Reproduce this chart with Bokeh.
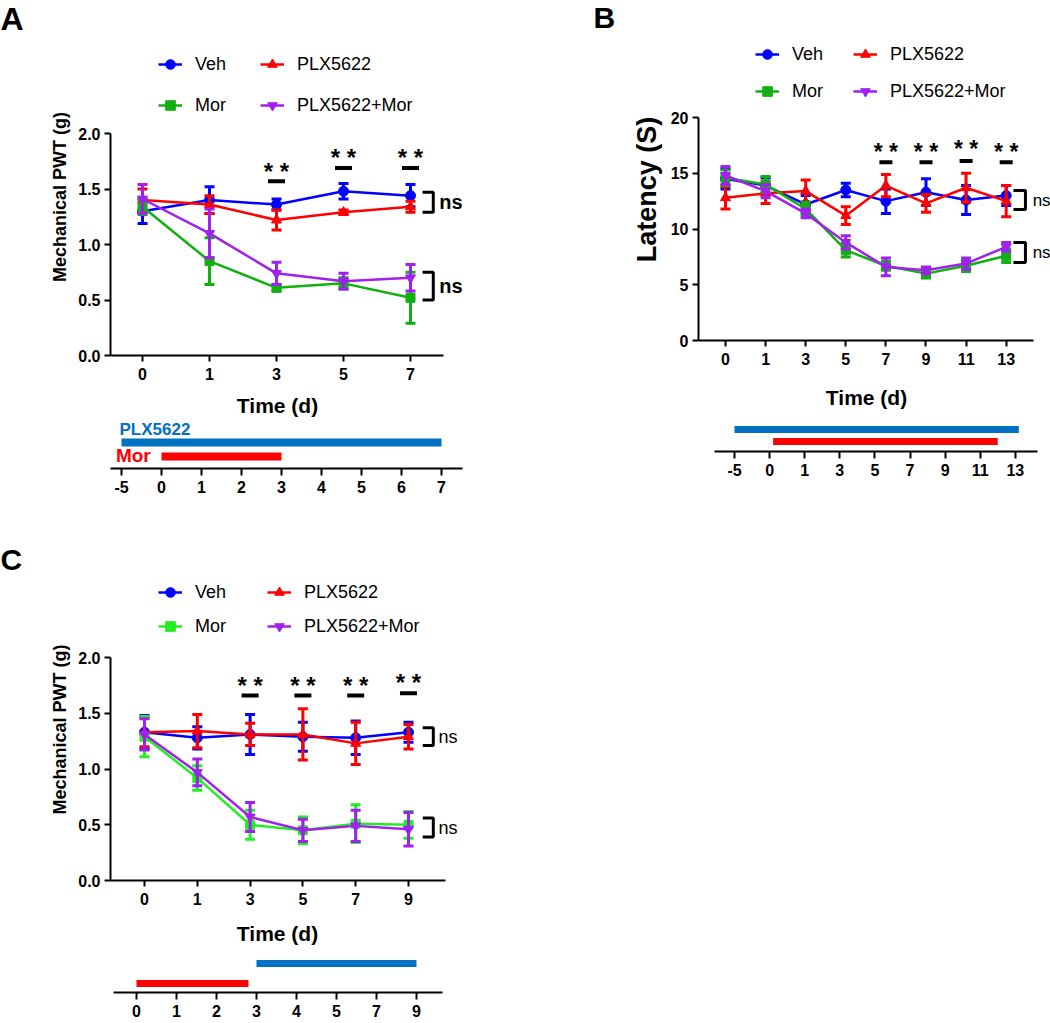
import numpy as np
from bokeh.plotting import figure
from bokeh.models import Range1d, FixedTicker, Legend, LegendItem, Label, ColumnDataSource
from bokeh.layouts import column, row
from bokeh.embed import file_html
from bokeh.resources import INLINE
from bokeh.core.properties import value

FONT = "Liberation Sans"

# ---------------- data ----------------
# Panel A : mechanical PWT (g)
time_a = ["0", "1", "3", "5", "7"]
veh_a = [1.30, 1.40, 1.36, 1.48, 1.44]
veh_a_err = [0.11, 0.12, 0.05, 0.07, 0.10]
plx_a = [1.40, 1.36, 1.22, 1.29, 1.34]
plx_a_err = [0.10, 0.08, 0.09, 0.02, 0.05]
mor_a = [1.34, 0.85, 0.61, 0.65, 0.52]
mor_a_err = [0.07, 0.21, 0.03, 0.05, 0.23]
pm_a = [1.41, 1.10, 0.74, 0.67, 0.70]
pm_a_err = [0.13, 0.22, 0.10, 0.07, 0.12]
sig_a_idx = [2, 3, 4]
sig_a_star = [1.70, 1.83, 1.83]
sig_a_bar = [1.57, 1.69, 1.69]
ns_a_top = [1.47, 1.29]
ns_a_bot = [0.75, 0.50]
tl_a_ticks = ["-5", "0", "1", "2", "3", "4", "5", "6", "7"]
tl_a_plx = [-5, 7]
tl_a_mor = [0, 3]

# Panel B : latency (s)
time_b = ["0", "1", "3", "5", "7", "9", "11", "13"]
veh_b = [14.5, 13.9, 12.2, 13.5, 12.5, 13.3, 12.6, 13.0]
veh_b_err = [0.9, 0.7, 0.8, 0.6, 1.1, 1.2, 1.3, 0.9]
plx_b = [12.8, 13.2, 13.4, 11.2, 13.9, 12.3, 13.7, 12.5]
plx_b_err = [1.0, 0.9, 1.0, 0.8, 1.0, 0.8, 1.3, 1.4]
mor_b = [14.6, 14.0, 11.8, 8.1, 6.7, 6.0, 6.7, 7.6]
mor_b_err = [0.7, 0.7, 0.6, 0.6, 0.4, 0.4, 0.5, 0.6]
pm_b = [14.8, 13.4, 11.4, 8.8, 6.6, 6.3, 6.9, 8.4]
pm_b_err = [0.8, 0.6, 0.4, 0.6, 0.8, 0.3, 0.5, 0.4]
sig_b_idx = [4, 5, 6, 7]
sig_b_star = [17.4, 17.4, 17.6, 17.4]
sig_b_bar = [16.0, 16.0, 16.1, 16.0]
ns_b_top = [13.45, 11.75]
ns_b_bot = [8.8, 7.0]
tl_b_ticks = ["-5", "0", "1", "3", "5", "7", "9", "11", "13"]
tl_b_plx = [-5, 13.2]
tl_b_mor = [0.1, 12]

# Panel C : mechanical PWT (g)
time_c = ["0", "1", "3", "5", "7", "9"]
veh_c = [1.33, 1.28, 1.31, 1.29, 1.28, 1.33]
veh_c_err = [0.15, 0.10, 0.18, 0.13, 0.15, 0.09]
plx_c = [1.33, 1.34, 1.31, 1.31, 1.23, 1.29]
plx_c_err = [0.13, 0.15, 0.10, 0.23, 0.19, 0.11]
mor_c = [1.29, 0.92, 0.50, 0.45, 0.51, 0.50]
mor_c_err = [0.18, 0.11, 0.13, 0.12, 0.17, 0.12]
pm_c = [1.31, 0.97, 0.57, 0.45, 0.49, 0.46]
pm_c_err = [0.14, 0.12, 0.13, 0.10, 0.14, 0.15]
sig_c_idx = [2, 3, 4, 5]
sig_c_star = [1.79, 1.79, 1.79, 1.82]
sig_c_bar = [1.66, 1.66, 1.66, 1.68]
ns_c_top = [1.37, 1.21]
ns_c_bot = [0.56, 0.39]
tl_c_ticks = ["0", "1", "2", "3", "4", "5", "7", "9"]
tl_c_mor = [0, 2.8]
tl_c_plx = [3, 9]

BLUE = "#0000FF"
RED = "#FF0000"
GREEN_AB = "#10B010"
GREEN_C = "#22EE22"
PURPLE = "#A020F0"
TL_BLUE = "#0070C0"
TL_RED = "#FF0000"


def style_axis(ax, size="16px"):
    ax.axis_line_width = 2
    ax.axis_line_color = "black"
    ax.major_tick_line_width = 2
    ax.major_tick_line_color = "black"
    ax.major_tick_out = 6
    ax.major_tick_in = 0
    ax.minor_tick_line_color = None
    ax.major_label_text_font = FONT
    ax.major_label_text_font_size = size
    ax.major_label_text_font_style = "bold"
    ax.major_label_text_color = "black"
    ax.axis_label_text_font = FONT
    ax.axis_label_text_font_style = "bold"
    ax.axis_label_text_color = "black"


def base_fig(w, h, fl, fr, ft, fb, xr, yr, xaxis=True, yaxis=True):
    p = figure(width=w, height=h, x_range=Range1d(*xr), y_range=Range1d(*yr),
               output_backend="svg", toolbar_location=None,
               x_axis_location="below" if xaxis else None,
               y_axis_location="left" if yaxis else None,
               min_border_left=fl, min_border_right=w - fr,
               min_border_top=ft, min_border_bottom=h - fb)
    p.outline_line_color = None
    p.grid.visible = False
    p.background_fill_color = "white"
    p.border_fill_color = "white"
    return p


def header(w, h, letters):
    hf = base_fig(w, h, 0, w, 0, h, (0, 1), (0, 1), xaxis=False, yaxis=False)
    for txt, dx, dy_top, size in letters:
        hf.add_layout(Label(x=dx, y=h - dy_top, x_units="screen", y_units="screen",
                            text=txt, text_baseline="top", text_align="left",
                            text_font=FONT, text_font_size=size,
                            text_font_style="bold", text_color="black"))
    return hf


def series(p, ys, errs, color, marker, msize):
    xs = list(range(len(ys)))
    src = ColumnDataSource(dict(x=xs, y=ys,
                                lo=[y - e for y, e in zip(ys, errs)],
                                hi=[y + e for y, e in zip(ys, errs)]))
    p.segment(x0="x", y0="lo", x1="x", y1="hi", source=src, line_color=color, line_width=3)
    p.scatter("x", "hi", source=src, marker="dash", size=10, line_width=3, line_color=color)
    p.scatter("x", "lo", source=src, marker="dash", size=10, line_width=3, line_color=color)
    ln = p.line("x", "y", source=src, line_color=color, line_width=2.5)
    sc = p.scatter("x", "y", source=src, marker=marker, size=msize,
                   fill_color=color, line_color=color)
    return [ln, sc]


def legend(p, items, loc, spacing):
    lg = Legend(items=[LegendItem(label=l, renderers=r) for l, r in items],
                location=loc, orientation="vertical",
                glyph_width=24, glyph_height=24, label_height=24,
                label_standoff=13, spacing=spacing, padding=0, margin=0,
                border_line_color=None, background_fill_alpha=0,
                label_text_font=FONT, label_text_font_size="18px",
                label_text_color="black")
    p.add_layout(lg, "center")


def sig(p, idx, star_y, bar_y, bar_size, star_size):
    src = ColumnDataSource(dict(x=idx, s=star_y, b=bar_y))
    p.text(x="x", y="s", text=value("* *"), source=src, text_font=value(FONT),
           text_font_size=value(star_size), text_font_style="bold",
           text_align="center", text_baseline="middle", y_offset=5,
           text_color="black")
    p.scatter("x", "b", source=src, marker="dash", size=bar_size, line_width=4,
              line_color="black")


def bracket(p, ys, x_tip, x_vert, x_text, size, style):
    p.line([x_tip, x_vert, x_vert, x_tip], [ys[0], ys[0], ys[1], ys[1]],
           line_color="black", line_width=3)
    p.add_layout(Label(x=x_text, y=(ys[0] + ys[1]) / 2, text="ns",
                       text_baseline="middle", text_align="left",
                       text_font=FONT, text_font_size=size,
                       text_font_style=style, text_color="black"))


def main_panel(w, h, fl, fr, fb, labels, xr, xb, yr, yb, yticks, yfmt, ylabel,
               ylsize, ylstand):
    p = base_fig(w, h, fl, fr, 0, fb, xr, yr)
    style_axis(p.xaxis[0])
    style_axis(p.yaxis[0])
    p.xaxis.ticker = FixedTicker(ticks=list(range(len(labels))))
    p.xaxis.major_label_overrides = {i: t for i, t in enumerate(labels)}
    p.xaxis.major_label_standoff = 6
    p.xaxis.bounds = xb
    p.yaxis.ticker = FixedTicker(ticks=yticks)
    p.yaxis.major_label_overrides = {t: yfmt % t for t in yticks}
    p.yaxis.major_label_standoff = 4
    p.yaxis.bounds = yb
    p.yaxis.axis_label = ylabel
    p.yaxis.axis_label_text_font_size = ylsize
    p.yaxis.axis_label_standoff = ylstand
    return p


def timeline(w, h, fl, fr, fb, ticks, xr, xb, yr, tx, ty):
    t = base_fig(w, h, fl, fr, 0, fb, xr, yr, yaxis=False)
    style_axis(t.xaxis[0])
    t.xaxis.ticker = FixedTicker(ticks=list(range(len(ticks))))
    t.xaxis.major_label_overrides = {i: s for i, s in enumerate(ticks)}
    t.xaxis.major_tick_out = 7
    t.xaxis.major_label_standoff = 5
    t.xaxis.bounds = xb
    t.add_layout(Label(x=tx, y=ty, x_units="screen", y_units="screen",
                       text="Time (d)", text_align="center", text_baseline="middle",
                       text_font=FONT, text_font_size="21px", text_font_style="bold",
                       text_color="black"))
    return t


def day_idx(days, ticks):
    d = np.array([float(s) for s in ticks])
    i = np.arange(len(d), dtype=float)
    out = []
    for v in days:
        if v > d[-1]:
            out.append(i[-1] + (v - d[-1]) / (d[-1] - d[-2]))
        else:
            out.append(float(np.interp(v, d, i)))
    return out


def bar(t, days, ticks, y, color, width):
    x0, x1 = day_idx(days, ticks)
    t.segment(x0=[x0], y0=[y], x1=[x1], y1=[y], line_color=color,
              line_width=width, line_cap="butt")


# ---------------- header with panel letters A, B ----------------
hTop = header(1050, 38, [("A", 0, 0, "32px"), ("B", 593, 0, "30px")])

# ---------------- panel A ----------------
pA = main_panel(540, 349, 110, 478, 317, time_a, (-0.478, 5.015), (-0.478, 4.49),
                (0, 2.856), (0, 2), [0, 0.5, 1.0, 1.5, 2.0], "%.1f",
                "Mechanical PWT (g)", "18px", 5)
rA1 = series(pA, veh_a, veh_a_err, BLUE, "circle", 10)
rA2 = series(pA, plx_a, plx_a_err, RED, "triangle", 10)
rA3 = series(pA, mor_a, mor_a_err, GREEN_AB, "square", 9)
rA4 = series(pA, pm_a, pm_a_err, PURPLE, "inverted_triangle", 10)
legend(pA, [("Veh", rA1), ("Mor", rA3)], (48, 238), 17)
legend(pA, [("PLX5622", rA2), ("PLX5622+Mor", rA4)], (150, 238), 17)
sig(pA, sig_a_idx, sig_a_star, sig_a_bar, 17, "24px")
bracket(pA, ns_a_top, 4.18, 4.34, 4.43, "20px", "bold")
bracket(pA, ns_a_bot, 4.18, 4.34, 4.43, "20px", "bold")

tA = timeline(540, 113, 110, 478, 81, tl_a_ticks, (-0.275, 8.925), (-0.275, 8.525),
              (0, 8.1), 167, 63)
bar(tA, tl_a_plx, tl_a_ticks, 2.6, TL_BLUE, 8)
bar(tA, tl_a_mor, tl_a_ticks, 1.2, TL_RED, 8)
tA.add_layout(Label(x=-0.05, y=3.9, text="PLX5622", text_baseline="middle",
                    text_font=FONT, text_font_size="17px", text_font_style="bold",
                    text_color=TL_BLUE))
tA.add_layout(Label(x=-0.14, y=1.3, text="Mor", text_baseline="middle",
                    text_font=FONT, text_font_size="19px", text_font_style="bold",
                    text_color=TL_RED))

# ---------------- panel B ----------------
pB = main_panel(510, 334, 158, 510, 302, time_b, (-0.673, 8.105), (-0.673, 7.68),
                (0, 27.09), (0, 20), [0, 5, 10, 15, 20], "%d", "Latency (S)", "27px", 6)
rB1 = series(pB, veh_b, veh_b_err, BLUE, "circle", 10)
rB2 = series(pB, plx_b, plx_b_err, RED, "triangle", 10)
rB3 = series(pB, mor_b, mor_b_err, GREEN_AB, "square", 9)
rB4 = series(pB, pm_b, pm_b_err, PURPLE, "inverted_triangle", 10)
legend(pB, [("Veh", rB1), ("Mor", rB3)], (57, 237), 13)
legend(pB, [("PLX5622", rB2), ("PLX5622+Mor", rB4)], (155, 237), 13)
sig(pB, sig_b_idx, sig_b_star, sig_b_bar, 13, "23px")
bracket(pB, ns_b_top, 7.18, 7.48, 7.66, "17px", "normal")
bracket(pB, ns_b_bot, 7.18, 7.48, 7.66, "17px", "normal")

tB = timeline(510, 128, 158, 510, 79, tl_b_ticks, (-1.026, 9.003), (-0.57, 8.63),
              (0, 7.9), 168, 54)
bar(tB, tl_b_plx, tl_b_ticks, 2.2, TL_BLUE, 7)
bar(tB, tl_b_mor, tl_b_ticks, 1.0, TL_RED, 7)

# ---------------- panel C ----------------
hC = header(540, 78, [("C", 0, 42, "30px")])
pC = main_panel(540, 334, 110, 480, 302, time_c, (-0.644, 6.364), (-0.644, 5.70),
                (0, 2.709), (0, 2), [0, 0.5, 1.0, 1.5, 2.0], "%.1f",
                "Mechanical PWT (g)", "18px", 5)
rC1 = series(pC, veh_c, veh_c_err, BLUE, "circle", 10)
rC2 = series(pC, plx_c, plx_c_err, RED, "triangle", 10)
rC3 = series(pC, mor_c, mor_c_err, GREEN_C, "square", 9)
rC4 = series(pC, pm_c, pm_c_err, PURPLE, "inverted_triangle", 10)
legend(pC, [("Veh", rC1), ("Mor", rC3)], (48, 242), 10)
legend(pC, [("PLX5622", rC2), ("PLX5622+Mor", rC4)], (157, 242), 10)
sig(pC, sig_c_idx, sig_c_star, sig_c_bar, 17, "24px")
bracket(pC, ns_c_top, 5.27, 5.47, 5.57, "18px", "normal")
bracket(pC, ns_c_bot, 5.27, 5.47, 5.57, "18px", "normal")

tC = timeline(540, 111, 110, 480, 80, tl_c_ticks, (-0.65, 8.6), (-0.575, 7.65),
              (0, 8.0), 167, 59)
bar(tC, tl_c_plx, tl_c_ticks, 2.9, TL_BLUE, 7)
bar(tC, tl_c_mor, tl_c_ticks, 0.9, TL_RED, 7)

layout = column(hTop, row(column(pA, tA), column(pB, tB)), hC, column(pC, tC))
open("out.html", "w").write(file_html(layout, INLINE))
